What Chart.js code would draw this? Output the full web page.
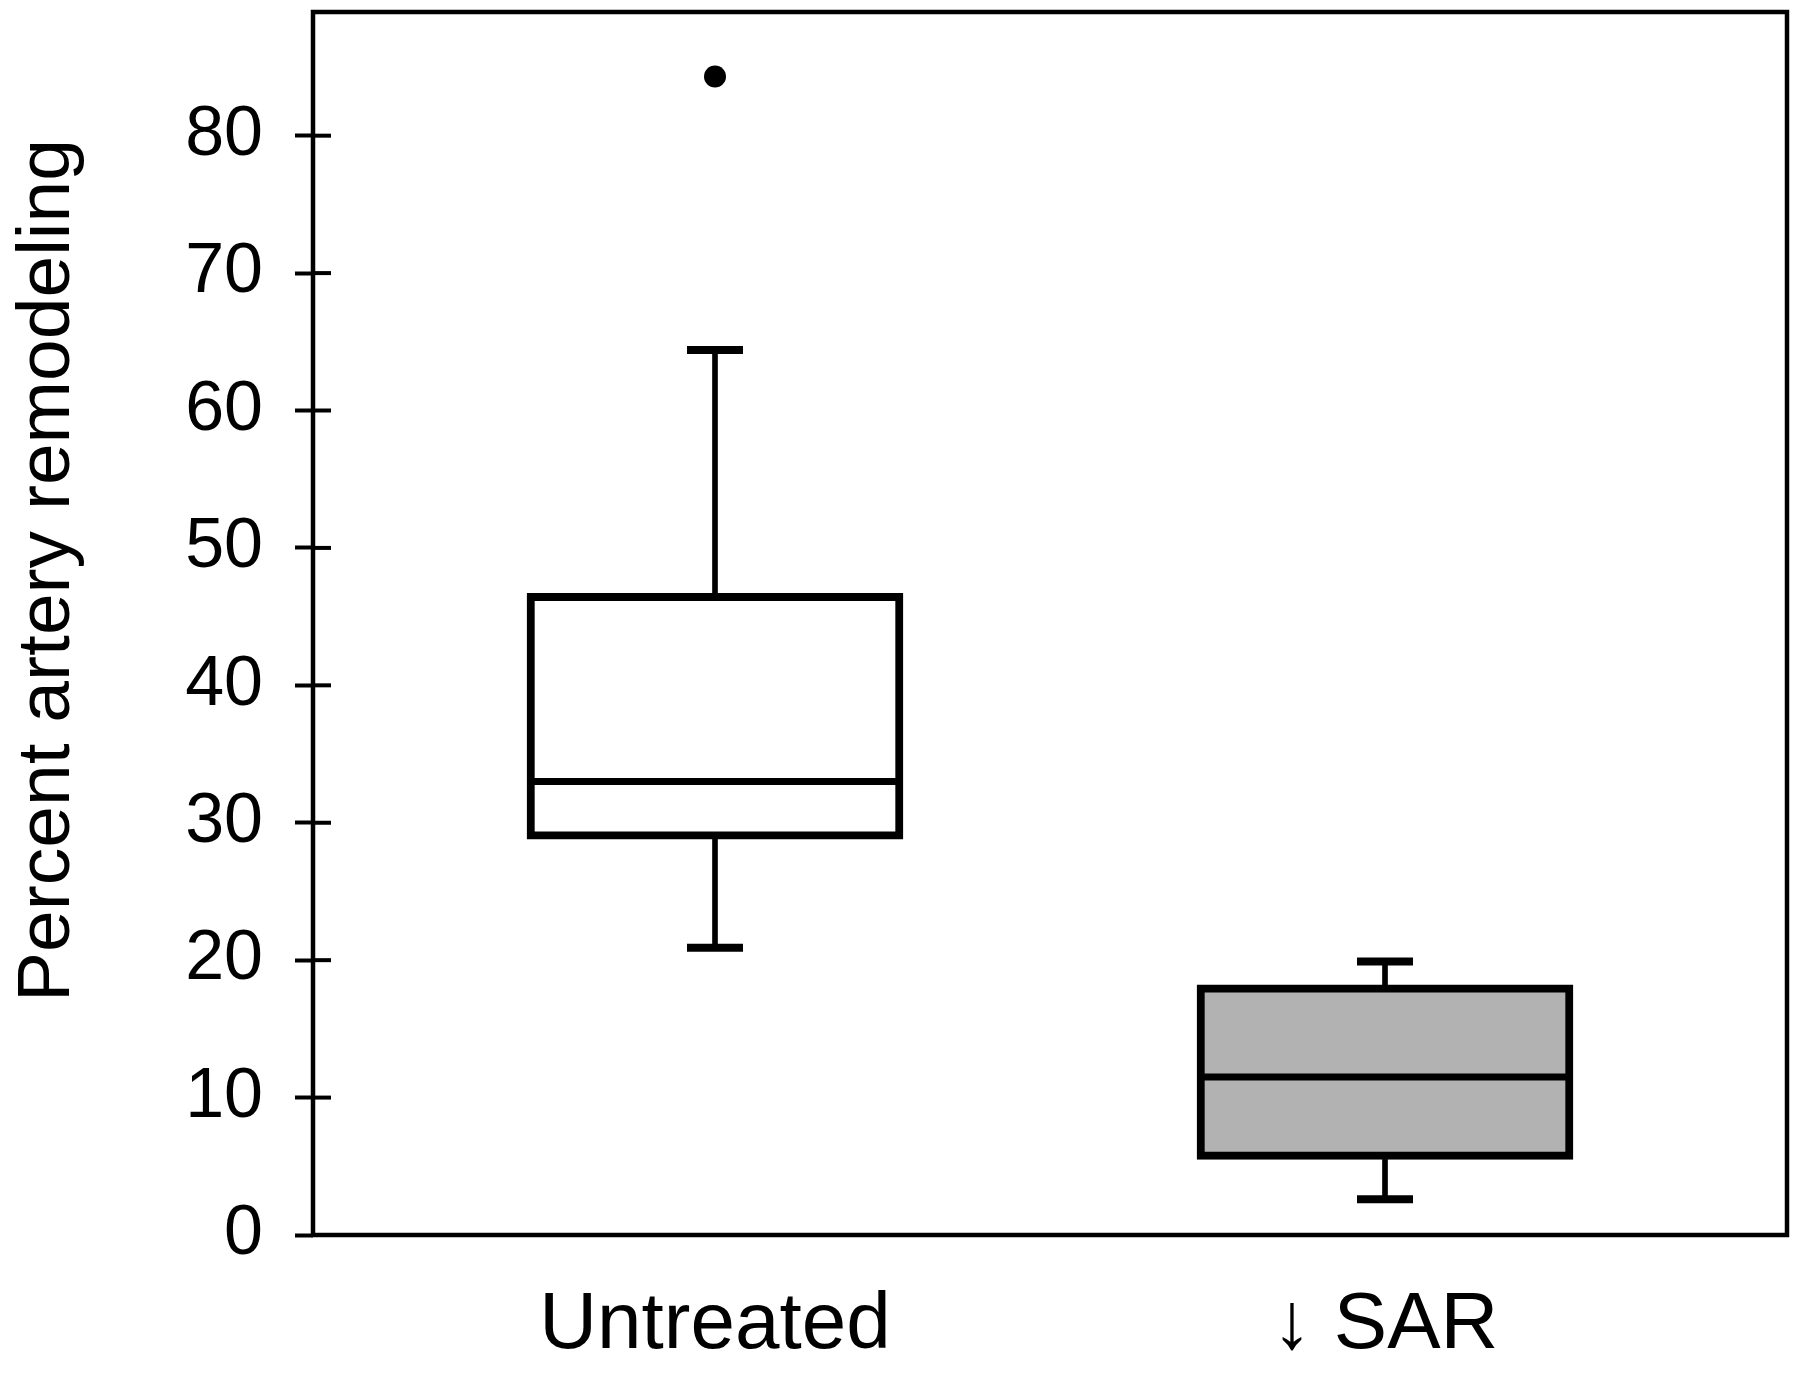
<!DOCTYPE html>
<html>
<head>
<meta charset="utf-8">
<script src="https://cdn.jsdelivr.net/npm/chart.js@4"></script>
<style>
html, body { margin: 0; padding: 0; background: #fff; }
</style>
</head>
<body>
<canvas id="grafico" width="1800" height="1383"></canvas>
<script>
// Dados
const grupos = ['Untreated', '\u2193 SAR'];
const posicoes = [1, 2];
const minimos = [20.9, 2.6];
const quartil1 = [28.8, 5.5];
const medianas = [33.0, 11.5];
const quartil3 = [46.7, 18.2];
const maximos = [64.4, 19.9];
const outlierPos = [1];
const outlierValor = [84.3];
const ticksY = [0, 10, 20, 30, 40, 50, 60, 70, 80];
const tituloY = 'Percent artery remodeling';

const fonte = '"Liberation Sans", Arial, sans-serif';
Chart.defaults.font.family = fonte;
Chart.defaults.color = '#000';

// moldura, marcas internas do eixo y e título do eixo
const moldura = {
    id: 'moldura',
    afterDraw(chart) {
        const { ctx, chartArea: a, scales: { y } } = chart;
        ctx.save();
        ctx.strokeStyle = '#000';
        ctx.lineWidth = 4.5;
        ctx.strokeRect(a.left, a.top, a.right - a.left, a.bottom - a.top);
        ctx.lineWidth = 4;
        y.ticks.forEach(t => {
            const py = y.getPixelForValue(t.value);
            ctx.beginPath();
            ctx.moveTo(a.left, py);
            ctx.lineTo(a.left + 18, py);
            ctx.stroke();
        });
        ctx.translate(69, (a.top + a.bottom) / 2 - 53);
        ctx.rotate(-Math.PI / 2);
        ctx.font = '75px ' + fonte;
        ctx.fillStyle = '#000';
        ctx.textAlign = 'center';
        ctx.textBaseline = 'alphabetic';
        ctx.fillText(tituloY, 0, 0);
        ctx.restore();
    }
};

const ctx = document.getElementById('grafico').getContext('2d');
const chart = new Chart(ctx, {
    type: 'bar',
    data: {
        datasets: [
            {
                // bigodes
                data: posicoes.flatMap((x, i) => [
                    { x: x, y: [quartil3[i], maximos[i]] },
                    { x: x, y: [minimos[i], quartil1[i]] }
                ]),
                backgroundColor: '#000',
                borderWidth: 0,
                barThickness: 5,
                grouped: false,
                order: 5
            },
            {
                // caixas
                data: posicoes.map((x, i) => ({ x: x, y: [quartil1[i], quartil3[i]] })),
                backgroundColor: ['#ffffff', '#b2b2b2'],
                borderColor: '#000',
                borderWidth: 8,
                borderSkipped: false,
                barThickness: 376,
                grouped: false,
                order: 4
            },
            {
                type: 'scatter',
                // medianas
                data: posicoes.map((x, i) => ({ x: x, y: medianas[i] })),
                pointStyle: 'line',
                pointRadius: 186,
                borderColor: '#000',
                borderWidth: 7,
                order: 3
            },
            {
                type: 'scatter',
                // traços das pontas
                data: posicoes.flatMap((x, i) => [{ x: x, y: maximos[i] }, { x: x, y: minimos[i] }]),
                pointStyle: 'line',
                pointRadius: 28,
                borderColor: '#000',
                borderWidth: 8,
                order: 2
            },
            {
                type: 'scatter',
                data: outlierPos.map((x, i) => ({ x: x, y: outlierValor[i] })),
                pointStyle: 'circle',
                pointRadius: 11,
                backgroundColor: '#000',
                borderWidth: 0,
                order: 1
            }
        ]
    },
    options: {
        responsive: false,
        animation: false,
        layout: { autoPadding: false, padding: { top: 12, right: 13, left: 0, bottom: 0 } },
        plugins: { legend: { display: false }, tooltip: { enabled: false } },
        scales: {
            x: {
                type: 'linear',
                min: 0.4,
                max: 2.6,
                offset: false,
                afterBuildTicks: s => { s.ticks = posicoes.map(v => ({ value: v })); },
                afterFit: s => { s.height = 148; s.paddingLeft = 0; s.paddingRight = 0; },
                border: { display: false },
                grid: { display: false },
                ticks: {
                    padding: 35,
                    font: { size: 80 },
                    callback: v => grupos[posicoes.indexOf(v)]
                }
            },
            y: {
                min: 0,
                max: 89,
                afterBuildTicks: s => { s.ticks = ticksY.map(v => ({ value: v })); },
                afterFit: s => { s.width = 313; s.paddingTop = 0; s.paddingBottom = 0; },
                border: { display: false },
                grid: { drawOnChartArea: false, drawTicks: true, tickLength: 18, tickWidth: 4, tickColor: '#000' },
                ticks: { padding: 32, font: { size: 70 } }
            }
        }
    },
    plugins: [moldura]
});
</script>
</body>
</html>
